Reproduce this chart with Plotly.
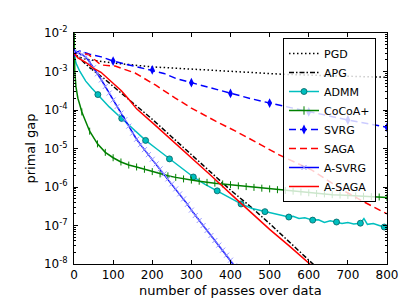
import numpy as np
import plotly.graph_objects as go

# ---------------- data (y as log10 of primal gap) ----------------
pgd_x = [0, 10, 30, 100, 200, 300, 400, 530, 650, 750, 800]
pgd_log = [-2.52, -2.62, -2.68, -2.78, -2.88, -2.94, -2.99, -3.07, -3.11, -3.14, -3.15]

apg_x = [0, 18, 40, 75, 100, 150, 200, 250, 300, 350, 400, 450, 500, 550, 600, 615]
apg_log = [-2.52, -2.70, -2.90, -3.17, -3.38, -3.82, -4.24, -4.70, -5.17, -5.62, -6.08, -6.50,
           -6.95, -7.42, -7.90, -8.04]

admm_x = [0, 5, 15, 30, 45, 61, 90, 122, 150, 183, 210, 244, 275, 305, 335, 366, 395, 427, 455,
          488, 510, 530, 549, 560, 575, 590, 610, 625, 640, 655, 671, 685, 700, 715, 732, 741,
          750, 765, 780, 793, 800]
admm_log = [-2.52, -2.78, -3.00, -3.25, -3.43, -3.60, -3.92, -4.22, -4.48, -4.79, -5.00, -5.27,
            -5.52, -5.74, -5.93, -6.10, -6.28, -6.44, -6.56, -6.64, -6.70, -6.74, -6.78, -6.76,
            -6.82, -6.80, -6.86, -6.85, -6.92, -6.88, -6.91, -6.95, -6.92, -6.96, -6.94, -6.82,
            -6.97, -6.95, -7.00, -7.04, -7.03]
admm_mk_x = [0, 61, 122, 183, 244, 305, 366, 427, 488, 549, 610, 671, 732, 793]
admm_mk_log = [-2.52, -3.60, -4.22, -4.79, -5.27, -5.74, -6.10, -6.44, -6.64, -6.78, -6.86, -6.91,
               -6.94, -7.04]

cocoa_x = [0, 2, 5, 10, 15, 20, 40, 60, 80, 100, 120, 140, 160, 180, 200, 220, 240, 260, 280,
           300, 320, 340, 360, 380, 400, 420, 440, 460, 480, 500, 520, 540, 560, 580, 600, 620,
           640, 660, 680, 700, 720, 740, 760, 780, 800]
cocoa_log = [-1.80, -3.00, -3.40, -3.70, -3.87, -4.05, -4.55, -4.88, -5.10, -5.24, -5.35, -5.43,
             -5.48, -5.54, -5.60, -5.66, -5.71, -5.75, -5.79, -5.82, -5.85, -5.88, -5.90, -5.92,
             -5.94, -5.97, -5.99, -6.01, -6.03, -6.05, -6.07, -6.09, -6.11, -6.13, -6.15, -6.17,
             -6.18, -6.20, -6.21, -6.22, -6.23, -6.24, -6.25, -6.26, -6.27]
cocoa_mk_start = 5  # markers drawn from pass 20 onward

svrg_x = [0, 15, 40, 70, 100, 150, 200, 230, 260, 300, 350, 400, 450, 500, 550, 600, 700, 800]
svrg_log = [-2.52, -2.47, -2.55, -2.62, -2.73, -2.85, -2.96, -3.05, -3.18, -3.29, -3.44, -3.57,
            -3.70, -3.82, -3.93, -4.05, -4.26, -4.45]
svrg_mk_x = [0, 100, 200, 300, 400, 500, 600, 700, 800]
svrg_mk_log = [-2.52, -2.73, -2.96, -3.29, -3.57, -3.82, -4.05, -4.26, -4.45]

saga_x = [0, 36, 69, 105, 156, 208, 259, 300, 362, 413, 479, 523, 608, 690, 740, 800]
saga_log = [-2.52, -2.55, -2.83, -2.86, -3.04, -3.35, -3.69, -3.95, -4.29, -4.55, -4.91, -5.16,
            -5.56, -6.10, -6.38, -6.70]

asvrg_x = list(range(0, 420, 10))
asvrg_log = [-2.50, -2.52, -2.56, -2.62, -2.76, -2.90, -3.06, -3.22, -3.39, -3.56, -3.74, -3.91,
             -4.08, -4.25, -4.42, -4.60, -4.76, -4.90, -5.03, -5.16, -5.28, -5.40, -5.53, -5.66,
             -5.79, -5.92, -6.05, -6.18, -6.31, -6.45, -6.60, -6.74, -6.87, -7.00, -7.13, -7.26,
             -7.39, -7.51, -7.64, -7.77, -7.90, -8.05]

asaga_x = [0, 10, 30, 49, 69, 95, 121, 140, 160, 208, 250, 300, 350, 408, 450, 500, 550, 605]
asaga_log = [-2.52, -2.65, -2.76, -2.91, -3.02, -3.25, -3.50, -3.72, -3.97, -4.40, -4.78, -5.24,
             -5.70, -6.25, -6.65, -7.10, -7.53, -8.02]

y_tick_exp = [-8, -7, -6, -5, -4, -3, -2]
x_ticks = [0, 100, 200, 300, 400, 500, 600, 700, 800]
x_title = "number of passes over data"
y_title = "primal gap"


def v(a):
    return [10.0 ** e for e in a]


FONT = "DejaVu Sans"
fig = go.Figure()


def add_line(x, ylog, color, dash, name, width=1.5):
    fig.add_trace(go.Scatter(x=x, y=v(ylog), mode="lines", name=name, showlegend=False,
                             line=dict(color=color, width=width, dash=dash)))


def add_legend(name, color, dash, symbol=None, mcolor=None, mline=None, msize=6):
    kw = dict(x=[None], y=[None], name=name, showlegend=True,
              line=dict(color=color, width=1.5, dash=dash))
    if symbol:
        kw["mode"] = "lines+markers"
        kw["marker"] = dict(symbol=symbol, size=msize, color=mcolor or color,
                            line=mline or dict(width=0))
    else:
        kw["mode"] = "lines"
    fig.add_trace(go.Scatter(**kw))


# PGD
add_line(pgd_x, pgd_log, "black", "1.5px,2.5px", "PGD")
# APG
add_line(apg_x, apg_log, "black", "5px,2px,1.5px,2px", "APG")
# ADMM
add_line(admm_x, admm_log, "#00bfbf", "solid", "ADMM")
fig.add_trace(go.Scatter(x=admm_mk_x, y=v(admm_mk_log), mode="markers", showlegend=False,
                         marker=dict(symbol="circle", size=6, color="#00bfbf",
                                     line=dict(color="#006060", width=0.8))))
# CoCoA+
add_line(cocoa_x, cocoa_log, "#008000", "solid", "CoCoA+")
fig.add_trace(go.Scatter(x=cocoa_x[cocoa_mk_start:], y=v(cocoa_log[cocoa_mk_start:]),
                         mode="markers", showlegend=False,
                         marker=dict(symbol="line-ns", size=5, color="#008000",
                                     line=dict(color="#008000", width=1))))
# SVRG
add_line(svrg_x, svrg_log, "#0000ff", "7px,4px", "SVRG")
fig.add_trace(go.Scatter(x=svrg_mk_x, y=v(svrg_mk_log), mode="markers", showlegend=False,
                         marker=dict(symbol="diamond-tall", size=7, color="#0000ff",
                                     line=dict(width=0))))
# SAGA
add_line(saga_x, saga_log, "#ff0000", "7px,4px", "SAGA")
# A-SVRG
add_line(asvrg_x, asvrg_log, "#0000ff", "solid", "A-SVRG")
fig.add_trace(go.Scatter(x=asvrg_x, y=v(asvrg_log), mode="markers", showlegend=False,
                         marker=dict(symbol="x-thin", size=5, color="#9a9aff",
                                     line=dict(color="#9a9aff", width=1))))
# A-SAGA
add_line(asaga_x, asaga_log, "#ff0000", "solid", "A-SAGA")

# legend entries
add_legend("PGD", "black", "1.5px,2.5px")
add_legend("APG", "black", "5px,2px,1.5px,2px")
add_legend("ADMM", "#00bfbf", "solid", "circle", "#00bfbf", dict(color="#006060", width=0.8))
add_legend("CoCoA+", "#008000", "solid", "line-ns", "#008000", dict(color="#008000", width=1), 6)
add_legend("SVRG", "#0000ff", "7px,4px", "diamond-tall", "#0000ff", dict(width=0), 7)
add_legend("SAGA", "#ff0000", "7px,4px")
add_legend("A-SVRG", "#0000ff", "solid", "x-thin", "#9a9aff", dict(color="#9a9aff", width=1), 5)
add_legend("A-SAGA", "#ff0000", "solid")

minor_vals = [m * 10.0 ** e for e in range(-8, -2) for m in range(2, 10)]

L, R, T, B, W, H = 66, 28, 25, 51, 407, 307
pw, ph = W - L - R, H - T - B

fig.update_layout(
    width=W, height=H,
    margin=dict(l=L, r=R, t=T, b=B),
    paper_bgcolor="white", plot_bgcolor="white",
    font=dict(family=FONT, size=12, color="black"),
    showlegend=True,
    legend=dict(x=(275 - L) / pw, y=1 - (30 - T) / ph, xanchor="left", yanchor="top",
                bgcolor="rgba(255,255,255,0.8)", bordercolor="black", borderwidth=1,
                font=dict(family=FONT, size=11), tracegroupgap=0, itemwidth=30),
    xaxis=dict(range=[0, 800], tickmode="array", tickvals=x_ticks,
               ticktext=[str(t) for t in x_ticks],
               ticks="inside", ticklen=4, tickcolor="black", showline=True, linecolor="black",
               linewidth=1, mirror="ticks", showgrid=False, zeroline=False,
               tickfont=dict(size=12)),
    yaxis=dict(type="log", range=[-8, -2], tickmode="array",
               tickvals=[10.0 ** e for e in y_tick_exp],
               ticktext=["10<sup>%d</sup>" % e for e in y_tick_exp],
               ticks="inside", ticklen=4, tickcolor="black", showline=True, linecolor="black",
               linewidth=1, mirror="ticks", showgrid=False, zeroline=False,
               ticklabelstandoff=3,
               minor=dict(tickmode="array", tickvals=minor_vals, ticks="inside", ticklen=2,
                          tickcolor="black", showgrid=False),
               tickfont=dict(size=12)),
    annotations=[
        dict(text=x_title, xref="paper", yref="paper", x=0.5, y=-(282 - (H - B)) / ph,
             xanchor="center", yanchor="middle", showarrow=False, font=dict(size=13)),
        dict(text=y_title, xref="paper", yref="paper", x=-(L - 22) / pw, y=0.5,
             xanchor="center", yanchor="middle", showarrow=False, textangle=-90,
             font=dict(size=13)),
    ],
)

fig.write_html("out.html")
